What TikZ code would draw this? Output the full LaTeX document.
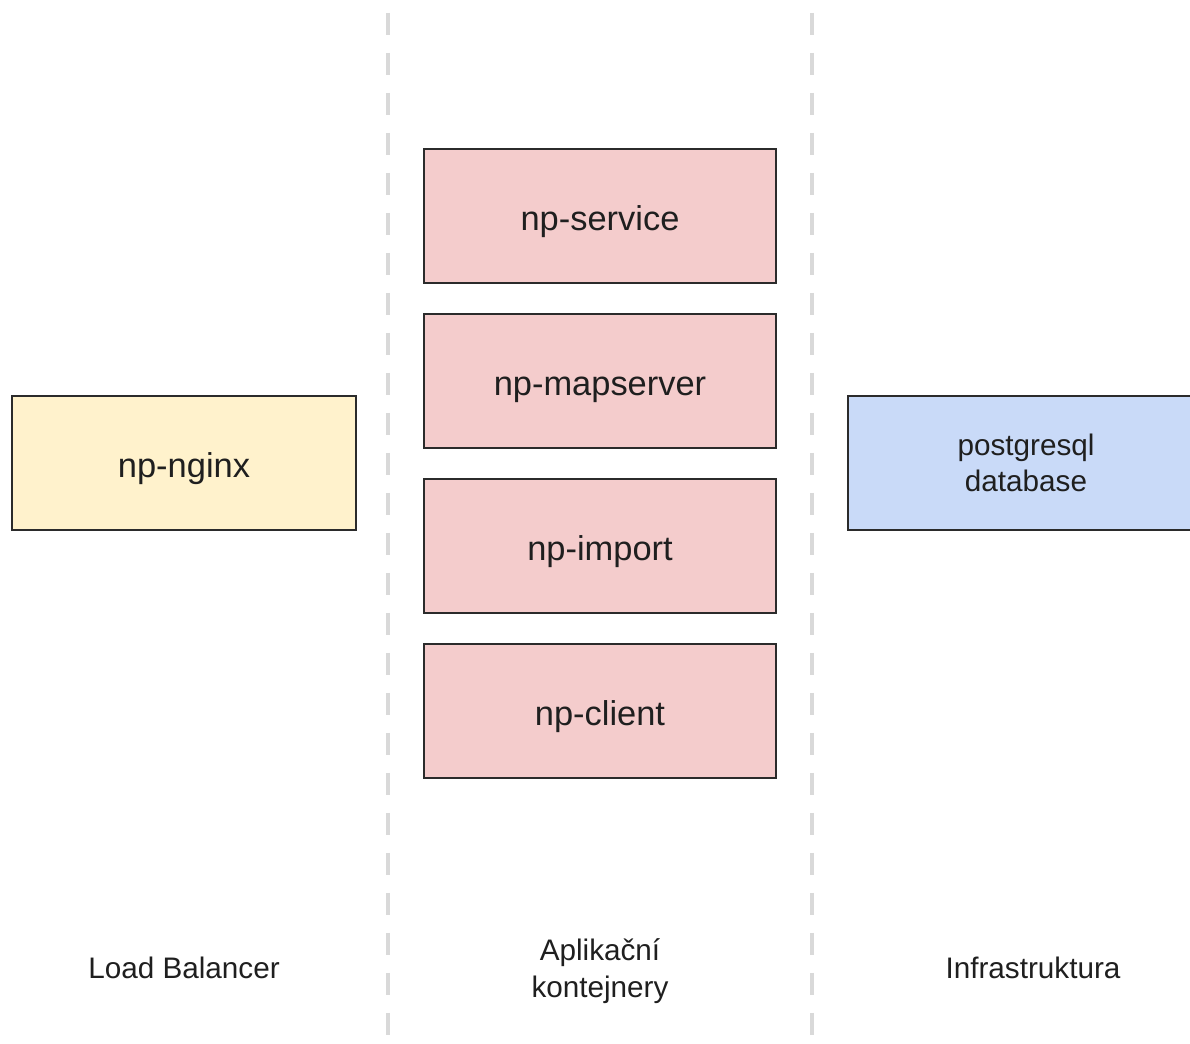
\documentclass[tikz,border=0pt]{standalone}
\usepackage{fontspec}
\setmainfont{Liberation Sans}
\usetikzlibrary{positioning}

\definecolor{lbfill}{HTML}{FFF2CC}
\definecolor{appfill}{HTML}{F4CCCC}
\definecolor{dbfill}{HTML}{C9DAF8}
\definecolor{boxline}{HTML}{2B2B2B}
\definecolor{laneline}{HTML}{D9D9D9}
\definecolor{txt}{HTML}{1F1F1F}

\tikzset{
  box/.style={draw=boxline, line width=1.1pt, minimum width=7.04cm,
    minimum height=2.68cm, inner sep=0pt, outer sep=0pt, text=txt,
    font=\fontsize{19.6}{23}\selectfont},
  onebox/.style={box, text height=19pt, text depth=2pt},
  appbox/.style={onebox, fill=appfill},
  lane/.style={laneline, line width=2.8pt, dash pattern=on 0.44cm off 0.36cm},
  lanelabel/.style={text=txt, align=center, font=\fontsize{16.9}{21}\selectfont}
}

\begin{document}
\begin{tikzpicture}[x=0.02cm,y=-0.02cm]
\useasboundingbox (0,0) rectangle (1190,1044);
% lanes
\foreach \x in {388,812}
  \draw [lane] (\x,13) -- (\x,1044);
% load balancer
\node [onebox, fill=lbfill, minimum width=6.88cm] (nginx) at (184,463) {np-nginx};
% application containers
\node [appbox] (service) at (600,216) {np-service};
\node [appbox, below=0.62cm of service] (mapserver) {np-mapserver};
\node [appbox, below=0.62cm of mapserver] (import) {np-import};
\node [appbox, below=0.62cm of import] (client) {np-client};
% infrastructure
\node [box, fill=dbfill, minimum width=7.12cm, align=center,
  font=\fontsize{16.9}{20.4}\selectfont] (db) at (1026,463) {postgresql\\database};
% lane names
\node [lanelabel] (lblb) at (184,968) {Load Balancer};
\node [lanelabel] (lbapp) at (600,971) {Aplikační\\kontejnery};
\node [lanelabel] (lbinfra) at (1033,968) {Infrastruktura};
\end{tikzpicture}
\end{document}
